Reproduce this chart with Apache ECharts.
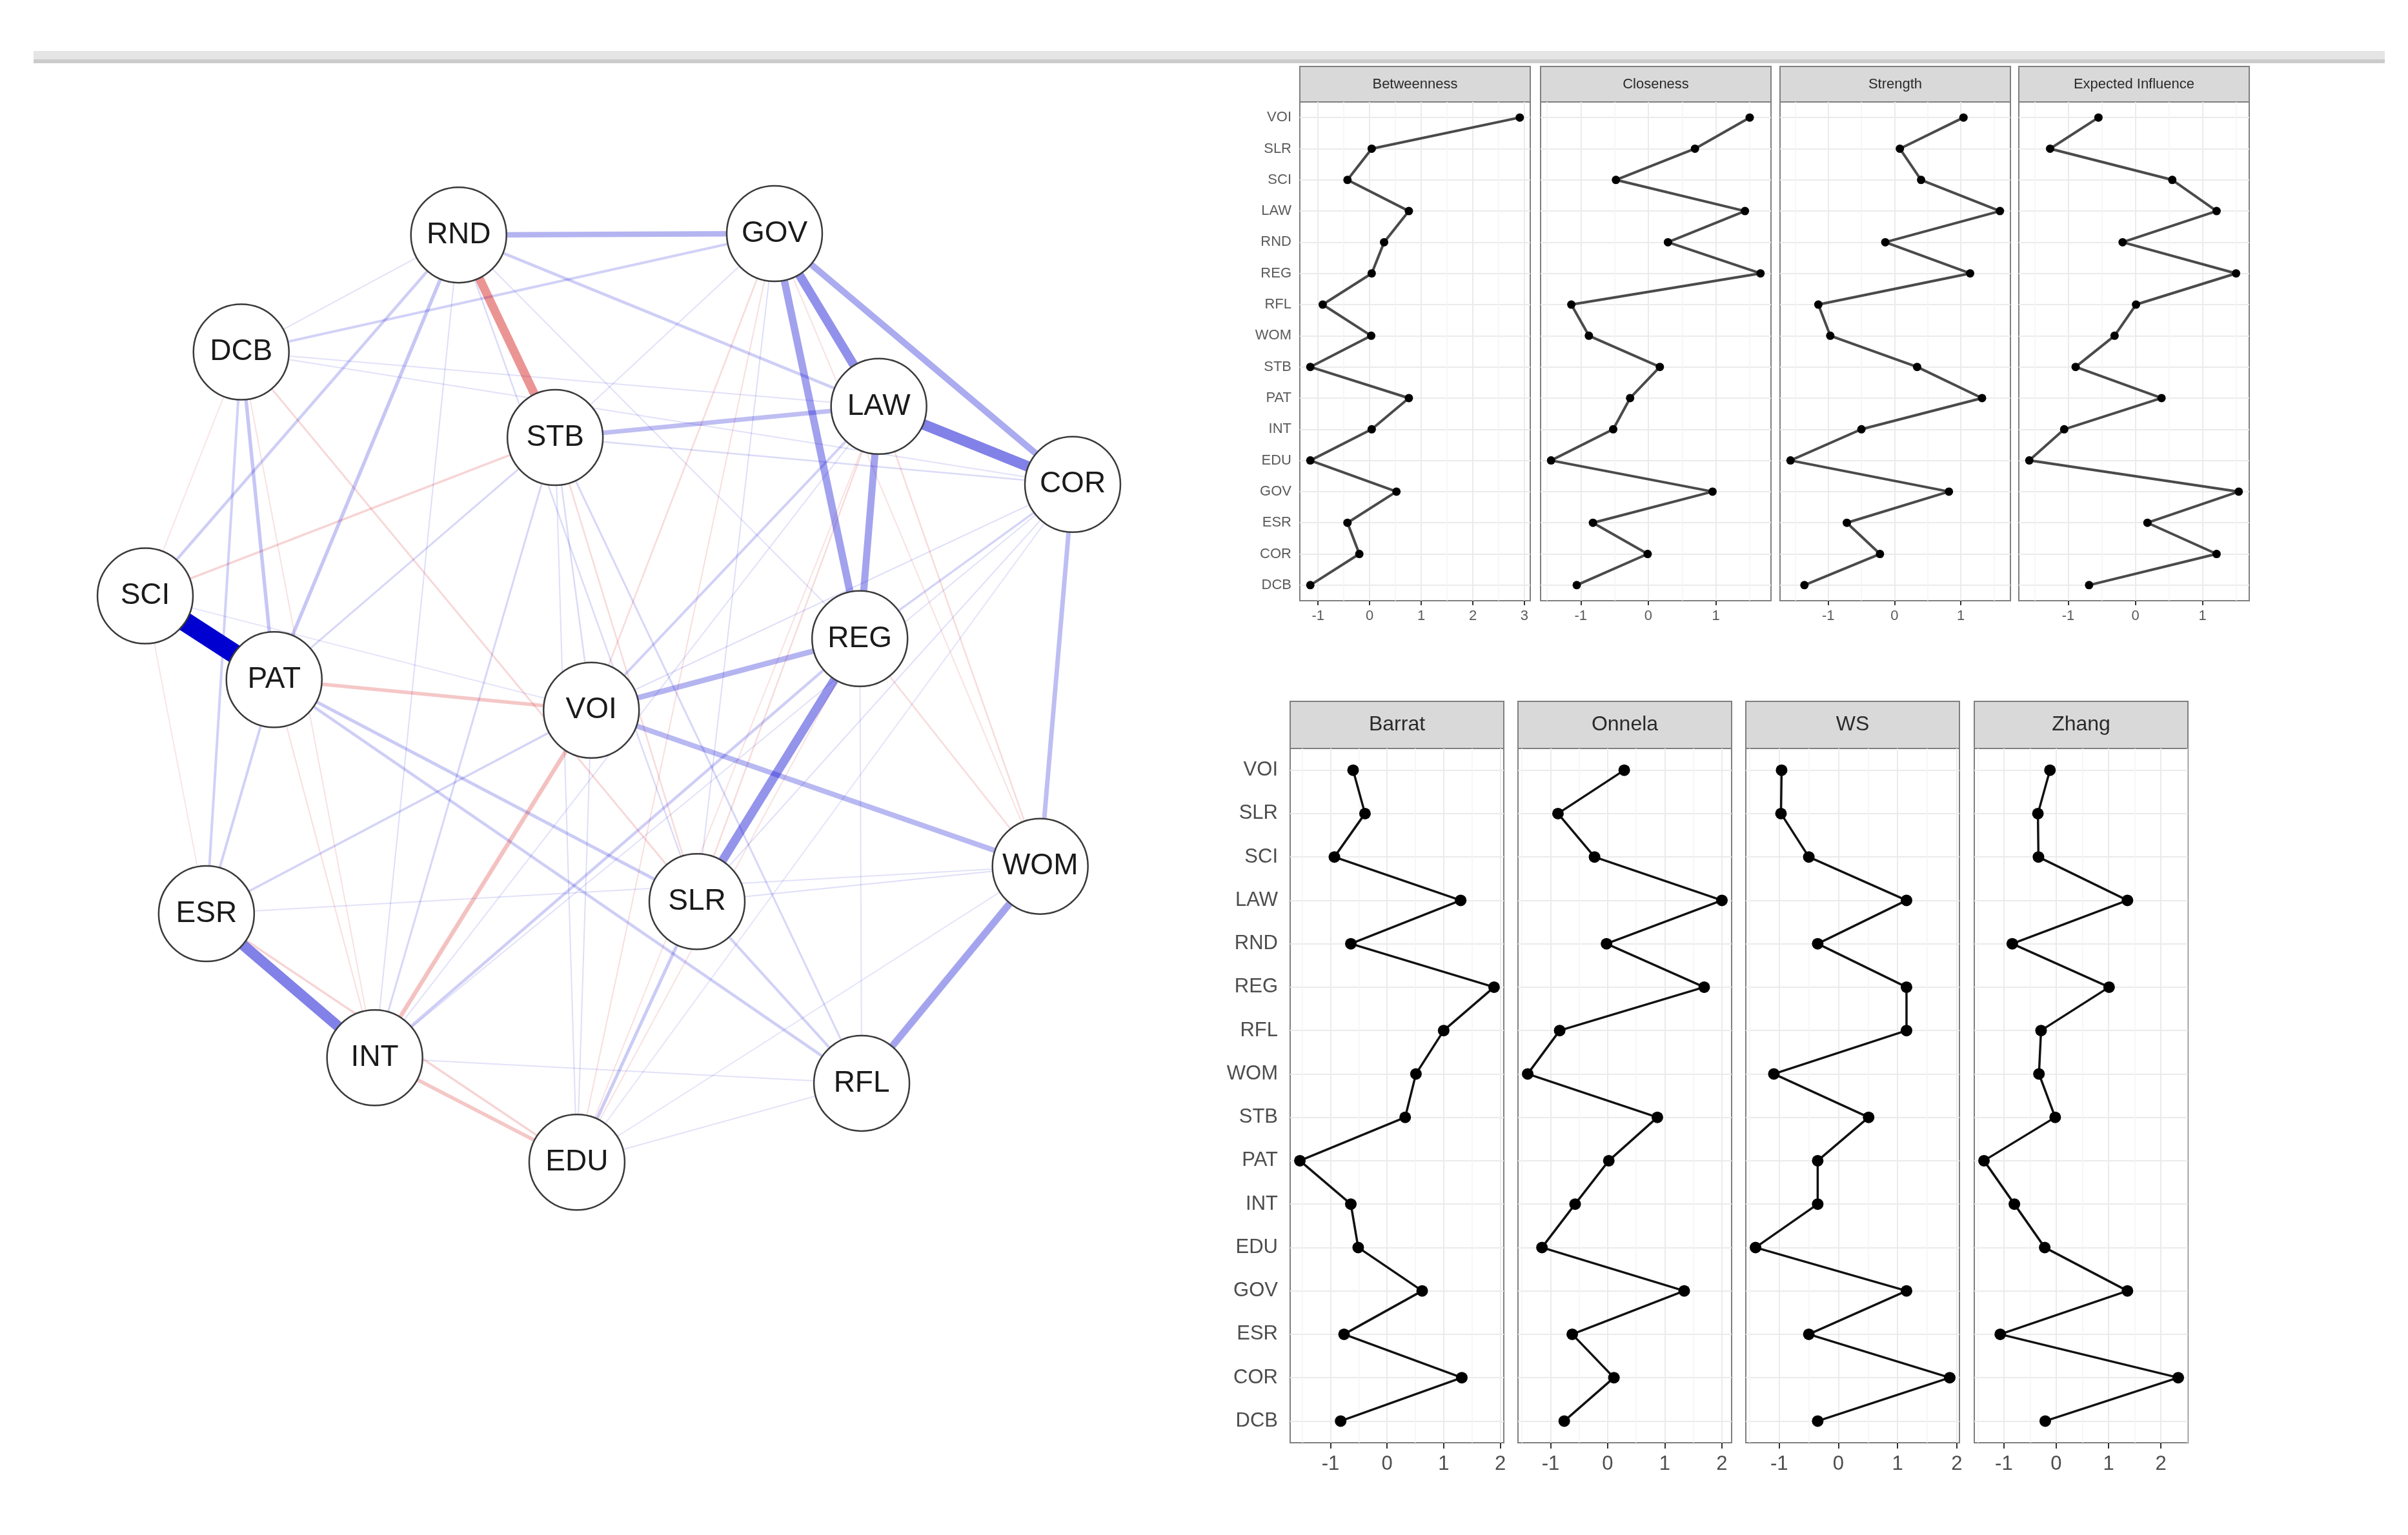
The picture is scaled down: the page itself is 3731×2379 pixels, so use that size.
<!DOCTYPE html>
<html><head><meta charset="utf-8">
<script src="https://cdn.jsdelivr.net/npm/echarts@6/dist/echarts.min.js"></script>
<style>html,body{margin:0;padding:0;background:#fff}#c{width:3731px;height:2379px}</style>
</head><body><div id="c"></div>
<script>
// ---------- DATA ----------
// categories, bottom to top
const categories = ['DCB','COR','ESR','GOV','EDU','INT','PAT','STB','WOM','RFL','REG','RND','LAW','SCI','SLR','VOI'];
const betweenness = [-1.15,-0.20,-0.43,0.52,-1.15,0.04,0.76,-1.15,0.03,-0.91,0.04,0.28,0.76,-0.43,0.04,2.91];
const closeness   = [-1.06,-0.01,-0.82,0.95,-1.44,-0.52,-0.27,0.17,-0.88,-1.14,1.66,0.29,1.43,-0.48,0.69,1.50];
const strength    = [-1.36,-0.22,-0.72,0.82,-1.57,-0.50,1.32,0.34,-0.97,-1.15,1.14,-0.14,1.59,0.40,0.08,1.04];
const expectedInfluence = [-0.69,1.21,0.18,1.54,-1.58,-1.06,0.39,-0.89,-0.31,0.01,1.50,-0.19,1.21,0.55,-1.27,-0.55];
const barrat = [-0.82,1.32,-0.76,0.62,-0.51,-0.64,-1.54,0.32,0.51,1.00,1.89,-0.64,1.30,-0.93,-0.39,-0.60];
const onnela = [-0.76,0.11,-0.62,1.34,-1.15,-0.57,0.02,0.87,-1.40,-0.84,1.69,-0.02,2.00,-0.23,-0.87,0.29];
const ws     = [-0.35,1.88,-0.50,1.15,-1.40,-0.35,-0.35,0.51,-1.09,1.15,1.15,-0.35,1.15,-0.50,-0.97,-0.96];
const zhang  = [-0.21,2.33,-1.07,1.36,-0.22,-0.80,-1.38,-0.02,-0.33,-0.29,1.01,-0.84,1.36,-0.34,-0.35,-0.12];

const topTitles = ['Betweenness','Closeness','Strength','Expected Influence'];
const bottomTitles = ['Barrat','Onnela','WS','Zhang'];
const ticksBetweenness = [-1,0,1,2,3];
const ticksTopOther = [-1,0,1];
const ticksBottom = [-1,0,1,2];

// network nodes (layout coordinates, -1..1)
const nodeNames = ['RND','GOV','DCB','STB','LAW','COR','SCI','PAT','REG','VOI','WOM','ESR','SLR','INT','RFL','EDU'];
const nodeX = [-0.324,0.357,-0.793,-0.116,0.582,1.000,-1.000,-0.722,0.541,-0.038,0.930,-0.868,0.190,-0.505,0.545,-0.069];
const nodeY = [0.997,1.000,0.745,0.561,0.628,0.460,0.220,0.040,0.128,-0.026,-0.362,-0.464,-0.438,-0.774,-0.829,-0.999];

// network edges
const edgeFrom = ['SCI','LAW','ESR','GOV','REG','GOV','LAW','WOM','GOV','RND','RND','VOI','VOI','COR','STB','INT','DCB','RND','PAT','INT',
  'PAT','PAT','EDU','RND','RND','DCB','ESR','INT','VOI','SLR','DCB','ESR','ESR','STB','COR','INT','STB','PAT','STB','DCB',
  'STB','GOV','LAW','LAW','REG','GOV','STB','COR','COR','RND','RND','EDU','EDU','PAT','RND','SLR','INT','ESR','DCB','DCB',
  'RND','SCI','SCI','GOV','EDU','REG','EDU','INT','DCB','COR','STB','SCI','WOM','GOV','LAW','LAW'];
const edgeTo = ['PAT','COR','INT','LAW','SLR','REG','REG','RFL','COR','STB','GOV','REG','WOM','WOM','LAW','VOI','PAT','PAT','VOI','EDU',
  'SLR','RFL','SLR','SCI','LAW','ESR','PAT','REG','LAW','RFL','GOV','VOI','EDU','SCI','REG','STB','RFL','STB','VOI','SLR',
  'SLR','VOI','SLR','WOM','WOM','EDU','COR','VOI','SLR','SLR','INT','VOI','STB','INT','REG','WOM','RFL','WOM','LAW','COR',
  'DCB','DCB','ESR','SLR','RFL','RFL','REG','COR','INT','EDU','GOV','VOI','EDU','WOM','INT','EDU'];
const edgeWeight = [0.60,0.33,0.33,0.28,0.27,0.23,0.22,0.22,0.20,-0.27,0.17,0.17,0.16,0.14,0.14,-0.13,0.11,0.11,-0.11,-0.11,
  0.10,0.09,0.10,0.09,0.09,0.08,0.08,0.09,0.08,0.08,0.08,0.07,-0.07,-0.07,0.07,0.06,0.06,0.06,0.05,-0.06,
  -0.05,-0.05,-0.05,-0.05,-0.05,-0.04,0.05,0.04,0.04,0.05,0.04,0.04,0.04,-0.04,0.04,0.04,0.03,0.03,0.03,0.03,
  0.03,-0.02,-0.02,0.04,0.03,0.03,-0.03,0.03,-0.03,0.02,0.03,0.02,0.02,-0.03,0.03,-0.03];

// ---------- BUILD ----------
const FONT = '"Liberation Sans", Arial, Helvetica, sans-serif';
function expandRange(v){const lo=Math.min(...v),hi=Math.max(...v),d=(hi-lo)*0.05;return [lo-d,hi+d];}
function minorOf(ticks,lo,hi){const st=ticks[1]-ticks[0];const ext=[ticks[0]-st].concat(ticks,[ticks[ticks.length-1]+st]);
  const out=[];for(let i=0;i<ext.length-1;i++){const m=(ext[i]+ext[i+1])/2;if(m>lo&&m<hi)out.push(m);}return out;}

const rows = [
  {titles: topTitles, values:[betweenness,closeness,strength,expectedInfluence],
   ticks:[ticksBetweenness,ticksTopOther,ticksTopOther,ticksTopOther],
   lefts:[2014,2387,2758,3128], width:357, top:158, height:773, stripTop:103, stripH:55,
   font:22, stripFont:22, xMargin:13, yMargin:13, sym:13, lw:4, lineColor:'#4a4a4a', tickLen:7, textColor:'#5a5a5a'},
  {titles: bottomTitles, values:[barrat,onnela,ws,zhang],
   ticks:[ticksBottom,ticksBottom,ticksBottom,ticksBottom],
   lefts:[1999,2352,2705,3059], width:331, top:1160, height:1076, stripTop:1087, stripH:73,
   font:31, stripFont:32, xMargin:18, yMargin:19, sym:18, lw:3.5, lineColor:'#111', tickLen:9, textColor:'#4d4d4d'}
];

const grids=[], xAxes=[], yAxes=[], series=[], graphics=[];
graphics.push({type:'rect', shape:{x:52,y:79,width:3643,height:13}, style:{fill:'#E5E5E5'}, silent:true});
graphics.push({type:'rect', shape:{x:52,y:92,width:3643,height:6}, style:{fill:'#CBCBCB'}, silent:true});

let gi=0;
rows.forEach(row=>{
  row.values.forEach((vals,p)=>{
    const [lo,hi]=expandRange(vals);
    const ticks=row.ticks[p];
    const first = p===0;
    grids.push({left:row.lefts[p], top:row.top, width:row.width, height:row.height, show:true,
      borderColor:'#7f7f7f', borderWidth:2, backgroundColor:'#fff'});
    xAxes.push({gridIndex:gi, type:'value', min:lo, max:hi,
      axisLine:{show:false}, splitLine:{show:false},
      axisTick:{show:true, length:row.tickLen, customValues:ticks, lineStyle:{color:'#333',width:2}},
      axisLabel:{customValues:ticks, fontSize:row.font, color:row.textColor, fontFamily:FONT, margin:row.xMargin}});
    yAxes.push({gridIndex:gi, type:'category', data:categories, boundaryGap:true,
      axisLine:{show:false}, splitLine:{show:false},
      axisTick:{show:first, alignWithLabel:true, length:row.tickLen, lineStyle:{color:'#333',width:2}},
      axisLabel:{show:first, interval:0, fontSize:row.font, color:row.textColor, fontFamily:FONT, margin:row.yMargin}});
    const ml=[];
    categories.forEach(c=>ml.push({yAxis:c, lineStyle:{color:'#EBEBEB', width:2, type:'solid'}}));
    ticks.forEach(t=>ml.push({xAxis:t, lineStyle:{color:'#EBEBEB', width:2, type:'solid'}}));
    minorOf(ticks,lo,hi).forEach(t=>ml.push({xAxis:t, lineStyle:{color:'#F4F4F4', width:1.5, type:'solid'}}));
    series.push({type:'line', xAxisIndex:gi, yAxisIndex:gi, z:3,
      data: vals.map((v,k)=>[v, categories[k]]), encode:{x:0,y:1},
      symbol:'circle', symbolSize:row.sym, showAllSymbol:true,
      itemStyle:{color:'#000'}, lineStyle:{color:row.lineColor, width:row.lw},
      emphasis:{disabled:true}, silent:true,
      markLine:{silent:true, z:1, symbol:['none','none'], label:{show:false}, emphasis:{disabled:true}, animation:false, data:ml}});
    graphics.push({type:'rect', shape:{x:row.lefts[p], y:row.stripTop, width:row.width, height:row.stripH},
      style:{fill:'#D9D9D9', stroke:'#7f7f7f', lineWidth:2}, silent:true});
    graphics.push({type:'text', x:row.lefts[p]+row.width/2, y:row.stripTop+row.stripH/2,
      style:{text:row.titles[p], fill:'#2a2a2a', font:row.stripFont+'px '+FONT, align:'center', verticalAlign:'middle'}, silent:true});
    gi++;
  });
});

// network grid
grids.push({left:225, top:362, width:1437, height:1440, show:false});
xAxes.push({gridIndex:gi, type:'value', min:-1, max:1, show:false});
yAxes.push({gridIndex:gi, type:'value', min:-1, max:1, show:false});

const wMax=Math.max(...edgeWeight.map(Math.abs));
const links=edgeFrom.map((f,i)=>({f:f,t:edgeTo[i],w:edgeWeight[i]}))
  .sort((a,b)=>Math.abs(a.w)-Math.abs(b.w))
  .map(e=>{const r=Math.abs(e.w)/wMax;
    const a=Math.min(1,0.08+0.75*r+Math.max(0,r-0.6)*1.2);
    const col=e.w>0?`rgba(0,0,208,${a.toFixed(3)})`:`rgba(208,0,0,${a.toFixed(3)})`;
    return {source:e.f, target:e.t, lineStyle:{width:Math.max(2,r*30), color:col, opacity:1}};});

series.push({type:'graph', coordinateSystem:'cartesian2d', xAxisIndex:gi, yAxisIndex:gi, z:2,
  data: nodeNames.map((n,i)=>({name:n, value:[nodeX[i], nodeY[i]]})),
  links: links, symbol:'circle', symbolSize:148,
  itemStyle:{color:'#fff', borderColor:'#3a3a3a', borderWidth:2.5},
  label:{show:true, position:'inside', fontSize:46, color:'#1a1a1a', fontFamily:FONT},
  lineStyle:{opacity:1, curveness:0},
  emphasis:{disabled:true}, silent:true, roam:false});

const chart=echarts.init(document.getElementById('c'), null, {renderer:'canvas'});
chart.setOption({animation:false, backgroundColor:'#fff', grid:grids, xAxis:xAxes, yAxis:yAxes, series:series, graphic:graphics});
</script></body></html>
